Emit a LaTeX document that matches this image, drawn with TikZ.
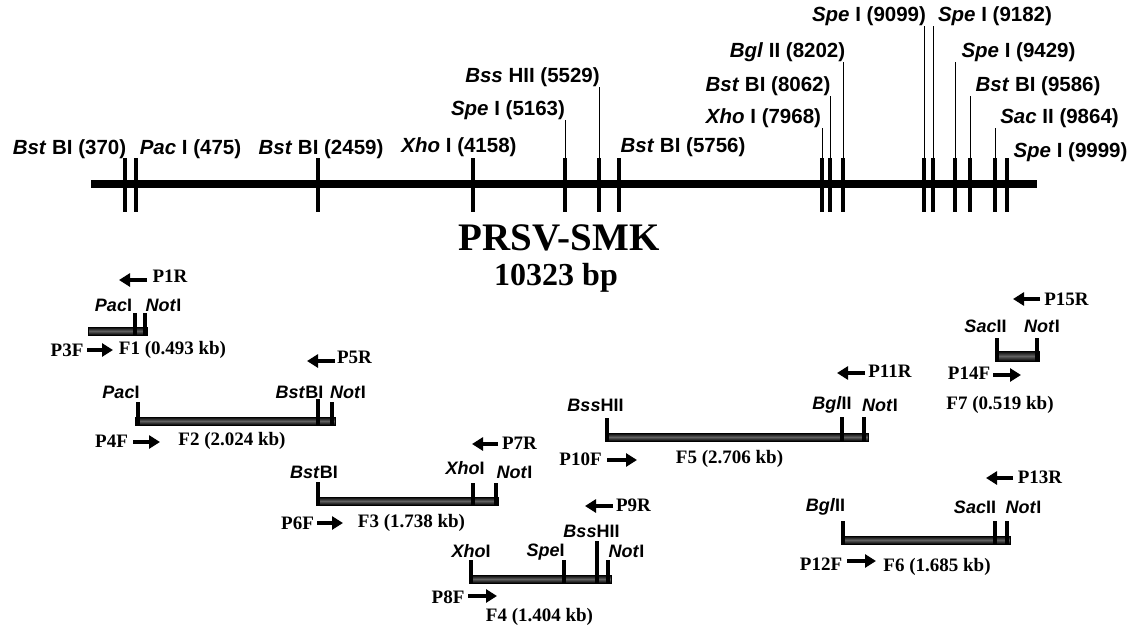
\documentclass[tikz,border=0pt]{standalone}
\usepackage{fontspec}
\setmainfont{Liberation Serif}
\setsansfont{Liberation Sans}
\usetikzlibrary{arrows.meta}
\begin{document}
\begin{tikzpicture}[x=1pt,y=-1pt,
  toplab/.style={font=\sffamily\bfseries\fontsize{20.5}{20.5}\selectfont, inner sep=0pt},
  enz/.style={font=\sffamily\bfseries\fontsize{18}{18}\selectfont, inner sep=0pt},
  plab/.style={font=\bfseries\fontsize{19}{19}\selectfont, inner sep=0pt},
  genome/.style={line width=8pt},
  site/.style={line width=4.5pt},
  leader/.style={line width=0.8pt},
  ftick/.style={line width=3.8pt},
  fbar/.style={draw=black, line width=0.8pt, top color=black, bottom color=black, middle color=black!62},
  parrow/.style={line width=4.5pt, -{Triangle[length=11pt,width=13pt]}}]
\useasboundingbox (0,0) rectangle (1137,626);

% ---------------- genome map ----------------
\coordinate (g0) at (91,184);
\coordinate (g1) at (1037,184);
\draw[genome] (g0) -- (g1);

\foreach \n/\x in {s370/125, s475/136, s2459/318, s4158/473, s5163/565, s5529/599, s5756/619,
                   s7968/822, s8062/830, s8202/843, s9099/924, s9182/933, s9429/955,
                   s9586/970, s9864/995, s9999/1007}{
  \coordinate (\n t) at (\x,158);
  \coordinate (\n b) at (\x,212);
  \draw[site] (\n t) -- (\n b);
}

\node[toplab] (l370)  at (69.5,149)  {\textit{Bst} BI (370)};
\node[toplab] (l475)  at (190.5,149) {\textit{Pac} I (475)};
\node[toplab] (l2459) at (321,149)   {\textit{Bst} BI (2459)};
\node[toplab] (l4158) at (459,147)   {\textit{Xho} I (4158)};
\node[toplab] (l5163) at (508,110)   {\textit{Spe} I (5163)};
\node[toplab] (l5529) at (532.5,77)  {\textit{Bss} HII (5529)};
\node[toplab] (l5756) at (683,147)   {\textit{Bst} BI (5756)};
\node[toplab] (l7968) at (763.5,118) {\textit{Xho} I (7968)};
\node[toplab] (l8062) at (768,86)    {\textit{Bst} BI (8062)};
\node[toplab] (l8202) at (787.5,52)  {\textit{Bgl} II (8202)};
\node[toplab] (l9099) at (869,16)    {\textit{Spe} I (9099)};
\node[toplab] (l9182) at (995,16)    {\textit{Spe} I (9182)};
\node[toplab] (l9429) at (1018.5,52) {\textit{Spe} I (9429)};
\node[toplab] (l9586) at (1038,86)   {\textit{Bst} BI (9586)};
\node[toplab] (l9864) at (1059.5,118){\textit{Sac} II (9864)};
\node[toplab] (l9999) at (1070.5,152){\textit{Spe} I (9999)};

\foreach \n in {5163,5529,7968,8062,8202,9099,9182,9429,9586,9864}{
  \draw[leader] (s\n t) -- (s\n t |- l\n.south);
}

\node[font=\bfseries\fontsize{39}{39}\selectfont, inner sep=0pt] (title) at (559,238) {PRSV-SMK};
\node[font=\bfseries\fontsize{32}{32}\selectfont, inner sep=0pt] (size) at (556,278) {10323 bp};

% ---------------- F1 ----------------
\shadedraw[fbar] (88,327) rectangle (147,335);
\draw[ftick] (135,313) -- (135,335);
\draw[ftick] (145,313) -- (145,335);
\node[enz] (f1a) at (113.5,305) {\textit{Pac}I};
\node[enz] (f1b) at (163.5,305) {\textit{Not}I};
\node[plab] (p1r) at (170,276) {P1R};
\coordinate (p1ra) at (147,280); \coordinate (p1rb) at (119,280);
\draw[parrow] (p1ra) -- (p1rb);
\node[plab] (p3f) at (67,350) {P3F};
\coordinate (p3fa) at (87,350); \coordinate (p3fb) at (113,350);
\draw[parrow] (p3fa) -- (p3fb);
\node[plab] (f1) at (172.5,350) {F1 (0.493 kb)};

% ---------------- F2 ----------------
\shadedraw[fbar] (135,417) rectangle (335,425);
\draw[ftick] (138,402) -- (138,425);
\draw[ftick] (318,399) -- (318,425);
\draw[ftick] (332,402) -- (332,425);
\node[enz] (f2a) at (121,392) {\textit{Pac}I};
\node[enz] (f2b) at (299.5,392) {\textit{Bst}BI};
\node[enz] (f2c) at (348,392) {\textit{Not}I};
\node[plab] (p5r) at (354.5,357) {P5R};
\coordinate (p5ra) at (335,361); \coordinate (p5rb) at (307,361);
\draw[parrow] (p5ra) -- (p5rb);
\node[plab] (p4f) at (111.5,441) {P4F};
\coordinate (p4fa) at (133,442); \coordinate (p4fb) at (160,442);
\draw[parrow] (p4fa) -- (p4fb);
\node[plab] (f2) at (232,441) {F2 (2.024 kb)};

% ---------------- F3 ----------------
\shadedraw[fbar] (316,497) rectangle (498,505);
\draw[ftick] (318,482) -- (318,505);
\draw[ftick] (473,483) -- (473,505);
\draw[ftick] (496,483) -- (496,505);
\node[enz] (f3a) at (314,472) {\textit{Bst}BI};
\node[enz] (f3b) at (465,468) {\textit{Xho}I};
\node[enz] (f3c) at (514.5,472) {\textit{Not}I};
\node[plab] (p7r) at (519.5,443) {P7R};
\coordinate (p7ra) at (498,444); \coordinate (p7rb) at (472,444);
\draw[parrow] (p7ra) -- (p7rb);
\node[plab] (p6f) at (297.5,523) {P6F};
\coordinate (p6fa) at (317,523); \coordinate (p6fb) at (343,523);
\draw[parrow] (p6fa) -- (p6fb);
\node[plab] (f3) at (411.5,523) {F3 (1.738 kb)};

% ---------------- F4 ----------------
\shadedraw[fbar] (469,575) rectangle (611,583);
\draw[ftick] (471,560) -- (471,583);
\draw[ftick] (564,560) -- (564,583);
\draw[ftick] (597,541) -- (597,583);
\draw[ftick] (608,560) -- (608,583);
\node[enz] (f4a) at (471,551) {\textit{Xho}I};
\node[enz] (f4b) at (545.5,552) {\textit{Spe}I};
\node[enz] (f4c) at (591.5,531) {\textit{Bss}HII};
\node[enz] (f4d) at (626.5,551) {\textit{Not}I};
\node[plab] (p9r) at (633.5,505) {P9R};
\coordinate (p9ra) at (613,506); \coordinate (p9rb) at (585,506);
\draw[parrow] (p9ra) -- (p9rb);
\node[plab] (p8f) at (448,597) {P8F};
\coordinate (p8fa) at (468,596); \coordinate (p8fb) at (497,596);
\draw[parrow] (p8fa) -- (p8fb);
\node[plab] (f4) at (539.5,617) {F4 (1.404 kb)};

% ---------------- F5 ----------------
\shadedraw[fbar] (605,433) rectangle (868,441);
\draw[ftick] (607,418) -- (607,441);
\draw[ftick] (842,417) -- (842,441);
\draw[ftick] (864,417) -- (864,441);
\node[enz] (f5a) at (595.5,405) {\textit{Bss}HII};
\node[enz] (f5b) at (832,405) {\textit{Bgl}II};
\node[enz] (f5c) at (880,405) {\textit{Not}I};
\node[plab] (p11r) at (890,371) {P11R};
\coordinate (p11ra) at (865,373); \coordinate (p11rb) at (837,373);
\draw[parrow] (p11ra) -- (p11rb);
\node[plab] (p10f) at (580.5,459) {P10F};
\coordinate (p10fa) at (607,460); \coordinate (p10fb) at (637,460);
\draw[parrow] (p10fa) -- (p10fb);
\node[plab] (f5) at (729.5,459) {F5 (2.706 kb)};

% ---------------- F6 ----------------
\shadedraw[fbar] (841,536) rectangle (1010,544);
\draw[ftick] (843,521) -- (843,544);
\draw[ftick] (995,521) -- (995,544);
\draw[ftick] (1007,521) -- (1007,544);
\node[enz] (f6a) at (825.5,507) {\textit{Bgl}II};
\node[enz] (f6b) at (975,507) {\textit{Sac}II};
\node[enz] (f6c) at (1023.5,507) {\textit{Not}I};
\node[plab] (p13r) at (1040,477) {P13R};
\coordinate (p13ra) at (1013,478); \coordinate (p13rb) at (986,478);
\draw[parrow] (p13ra) -- (p13rb);
\node[plab] (p12f) at (821,564) {P12F};
\coordinate (p12fa) at (847,561); \coordinate (p12fb) at (876,561);
\draw[parrow] (p12fa) -- (p12fb);
\node[plab] (f6) at (937,567) {F6 (1.685 kb)};

% ---------------- F7 ----------------
\shadedraw[fbar] (995,351) rectangle (1039,361);
\draw[ftick] (997,338) -- (997,361);
\draw[ftick] (1037,338) -- (1037,361);
\node[enz] (f7a) at (985.5,326) {\textit{Sac}II};
\node[enz] (f7b) at (1042,326) {\textit{Not}I};
\node[plab] (p15r) at (1066.5,299) {P15R};
\coordinate (p15ra) at (1040,299); \coordinate (p15rb) at (1013,299);
\draw[parrow] (p15ra) -- (p15rb);
\node[plab] (p14f) at (969,373) {P14F};
\coordinate (p14fa) at (993,375); \coordinate (p14fb) at (1021,375);
\draw[parrow] (p14fa) -- (p14fb);
\node[plab] (f7) at (1000,405) {F7 (0.519 kb)};
\end{tikzpicture}
\end{document}
